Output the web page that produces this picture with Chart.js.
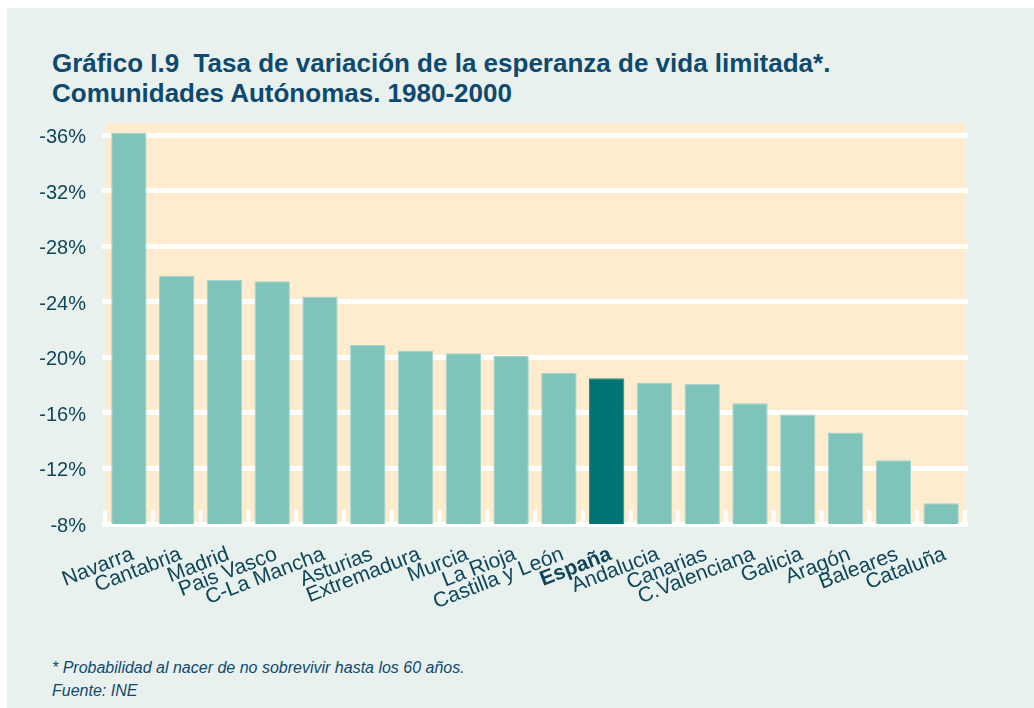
<!DOCTYPE html>
<html>
<head>
<meta charset="utf-8">
<script src="https://cdn.jsdelivr.net/npm/chart.js@4.4.1/dist/chart.umd.min.js"></script>
<style>
  html, body { margin: 0; padding: 0; background: #ffffff; width: 1034px; height: 708px; overflow: hidden; }
  #panel { position: absolute; left: 7px; top: 8px; width: 1027px; height: 700px; background: #e8f1ee; }
  #title { position: absolute; left: 52px; top: 48px; margin: 0; font-family: "Liberation Sans", Arial, sans-serif;
           font-weight: bold; font-size: 26px; line-height: 30px; color: #0f4a6e; white-space: nowrap; }
  #note { position: absolute; left: 52px; top: 656px; margin: 0; font-family: "Liberation Sans", Arial, sans-serif;
          font-style: italic; font-size: 16px; line-height: 23px; color: #0f4a6e; white-space: nowrap; }
  #c { position: absolute; left: 0; top: 0; }
</style>
</head>
<body>
<div id="panel"></div>
<div id="title">Gráfico I.9&nbsp; Tasa de variación de la esperanza de vida limitada*.<br>Comunidades Autónomas. 1980-2000</div>
<div id="note">* Probabilidad al nacer de no sobrevivir hasta los 60 años.<br>Fuente: INE</div>
<canvas id="c" width="1034" height="708"></canvas>
<script>
const categories = ["Navarra", "Cantabria", "Madrid", "Pais Vasco", "C-La Mancha", "Asturias", "Extremadura",
  "Murcia", "La Rioja", "Castilla y León", "España", "Andalucia", "Canarias", "C.Valenciana", "Galicia",
  "Aragón", "Baleares", "Cataluña"];
const values = [-36.2, -25.9, -25.6, -25.5, -24.4, -20.9, -20.5, -20.3, -20.1, -18.9, -18.5, -18.2, -18.1,
  -16.7, -15.9, -14.6, -12.6, -9.5];
const yTicks = [-36, -32, -28, -24, -20, -16, -12, -8];
const highlight = "España";

const barColor = "#7fc4bb";
const barHighlight = "#007474";
const textColor = "#10465a";

const bgPlugin = {
  id: 'bg',
  beforeDraw(chart) {
    const { ctx, chartArea: a } = chart;
    ctx.save();
    ctx.fillStyle = '#ffebcd';
    ctx.fillRect(a.left, a.top, a.right - a.left, a.bottom - a.top);
    ctx.restore();
  },
  beforeDatasetsDraw(chart) {
    const { ctx, chartArea: a, scales: { x, y } } = chart;
    const step = x.getPixelForValue(1) - x.getPixelForValue(0);
    ctx.save();
    ctx.fillStyle = '#ffffff';
    for (let i = 0; i <= categories.length; i++) {
      const px = x.getPixelForValue(0) + (i - 0.5) * step;
      ctx.fillRect(px - 2, a.bottom - 14, 4, 14);
    }
    yTicks.forEach(v => {
      const py = y.getPixelForValue(v);
      ctx.fillRect(a.right, py - 2.5, 3, 5);
    });
    ctx.restore();
  }
};

new Chart(document.getElementById('c'), {
  type: 'bar',
  data: {
    labels: categories,
    datasets: [{
      data: values,
      backgroundColor: categories.map(c => c === highlight ? barHighlight : barColor),
      borderColor: categories.map(c => c === highlight ? '#2a8a8a' : '#a2d5ce'),
      borderWidth: 1,
      borderSkipped: 'start',
      barPercentage: 0.74,
      categoryPercentage: 1.0
    }]
  },
  options: {
    responsive: false,
    animation: false,
    devicePixelRatio: 1,
    layout: { padding: { top: 123, right: 69, left: 0, bottom: 0 } },
    plugins: { legend: { display: false }, tooltip: { enabled: false }, title: { display: false } },
    scales: {
      y: {
        reverse: true,
        min: -36.9,
        max: -8,
        afterBuildTicks: s => { s.ticks = yTicks.map(v => ({ value: v })); },
        afterFit: s => { s.width = 105; },
        grid: { color: '#ffffff', lineWidth: 5, tickLength: 3, drawTicks: true },
        border: { display: false },
        ticks: {
          padding: 16,
          labelOffset: 2,
          color: textColor,
          font: { family: '"Liberation Sans", Arial, sans-serif', size: 20 },
          callback: v => v + '%'
        }
      },
      x: {
        afterFit: s => { s.height = 184; },
        grid: { display: false, drawTicks: false },
        border: { display: false },
        ticks: {
          autoSkip: false,
          minRotation: 21,
          maxRotation: 21,
          padding: 18,
          labelOffset: 4,
          color: textColor,
          font: ctx => ({
            family: '"Liberation Sans", Arial, sans-serif',
            size: 21,
            weight: categories[ctx.index] === highlight ? 'bold' : 'normal'
          })
        }
      }
    }
  },
  plugins: [bgPlugin]
});
</script>
</body>
</html>
